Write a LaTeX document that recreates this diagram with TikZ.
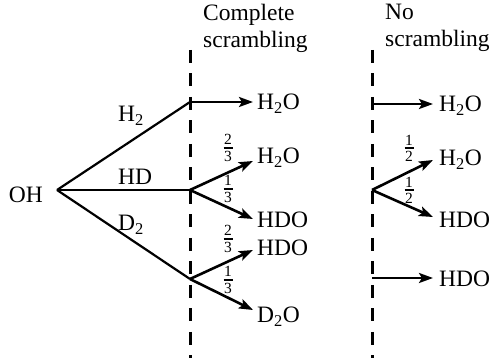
\documentclass[tikz,border=0pt]{standalone}
\usepackage{fontspec}
\setmainfont{Liberation Serif}
\usetikzlibrary{arrows.meta,calc}
\newcommand\frc[2]{\vbox{\offinterlineskip\halign{\hfil##\hfil\cr #1\cr\noalign{\kern2.2pt}\rule{9pt}{1.5pt}\cr\noalign{\kern2.2pt} #2\cr}}}
\begin{document}
\begin{tikzpicture}[x=1pt,y=-1pt,
  lbl/.style={font=\fontsize{23.5}{27}\selectfont, inner sep=0pt},
  prod/.style={lbl, anchor=west},
  fr/.style={font=\fontsize{15.5}{15.5}\selectfont, inner sep=0pt},
  branch/.style={line width=2.2pt},
  arr/.style={line width=2.6pt, -{Stealth[length=14pt,width=10pt,inset=3pt]}},
  divider/.style={line width=3pt, dash pattern=on 13pt off 10.5pt}]
\useasboundingbox (0,0) rectangle (491,358);
% dividers
\coordinate (d1top) at (190,50);
\coordinate (d1bot) at (190,358);
\coordinate (d2top) at (372,50);
\coordinate (d2bot) at (372,358);
\draw[divider] (d1top) -- (d1bot);
\draw[divider] (d2top) -- (d2bot);
% headers
\node[lbl, anchor=north west, align=left] (hc) at (203,4) {Complete\\scrambling};
\node[lbl, anchor=north west, align=left] (hn) at (385,4) {No\\scrambling};
% source
\node[lbl, anchor=east] (OH) at (43,195) {OH};
\coordinate (o) at (57,190);
\coordinate (bh) at (190,102);
\coordinate (bhd) at (190,190);
\coordinate (bd) at (190,279);
\draw[branch] (o) -- (bh);
\draw[branch] (o) -- (bhd);
\draw[branch] (o) -- (bd);
\node[lbl, anchor=west] (lh) at (118,116) {H\textsubscript{2}};
\node[lbl, anchor=west] (lhd) at (118,177) {HD};
\node[lbl, anchor=west] (ld) at (118,225) {D\textsubscript{2}};
% complete scrambling products
\node[prod] (p1) at (257,104) {H\textsubscript{2}O};
\node[prod] (p2) at (257,158) {H\textsubscript{2}O};
\node[prod] (p3) at (257,220) {HDO};
\node[prod] (p4) at (257,248) {HDO};
\node[prod] (p5) at (257,317) {D\textsubscript{2}O};
\draw[arr] (bh) -- ($(p1.west)+(-4,-2)$);
\draw[arr] (bhd) -- ($(p2.west)+(-4,3)$);
\draw[arr] (bhd) -- ($(p3.west)+(-4,-1)$);
\draw[arr] (bd) -- ($(p4.west)+(-4,2)$);
\draw[arr] (bd) -- ($(p5.west)+(-4,-7)$);
\node[fr] (f1) at (228,148) {\frc{2}{3}};
\node[fr] (f2) at (228,189) {\frc{1}{3}};
\node[fr] (f3) at (228,239) {\frc{2}{3}};
\node[fr] (f4) at (228,280) {\frc{1}{3}};
% no scrambling products
\coordinate (r1) at (372,104);
\coordinate (r2) at (372,190);
\coordinate (r3) at (372,278);
\node[prod] (q1) at (439,106) {H\textsubscript{2}O};
\node[prod] (q2) at (439,160) {H\textsubscript{2}O};
\node[prod] (q3) at (439,220) {HDO};
\node[prod] (q4) at (439,279) {HDO};
\draw[arr] (r1) -- ($(q1.west)+(-6,-2)$);
\draw[arr] (r2) -- ($(q2.west)+(-6,0)$);
\draw[arr] (r2) -- ($(q3.west)+(-6,-3)$);
\draw[arr] (r3) -- ($(q4.west)+(-6,-1)$);
\node[fr] (g1) at (409,148) {\frc{1}{2}};
\node[fr] (g2) at (409,190) {\frc{1}{2}};
\end{tikzpicture}
\end{document}
